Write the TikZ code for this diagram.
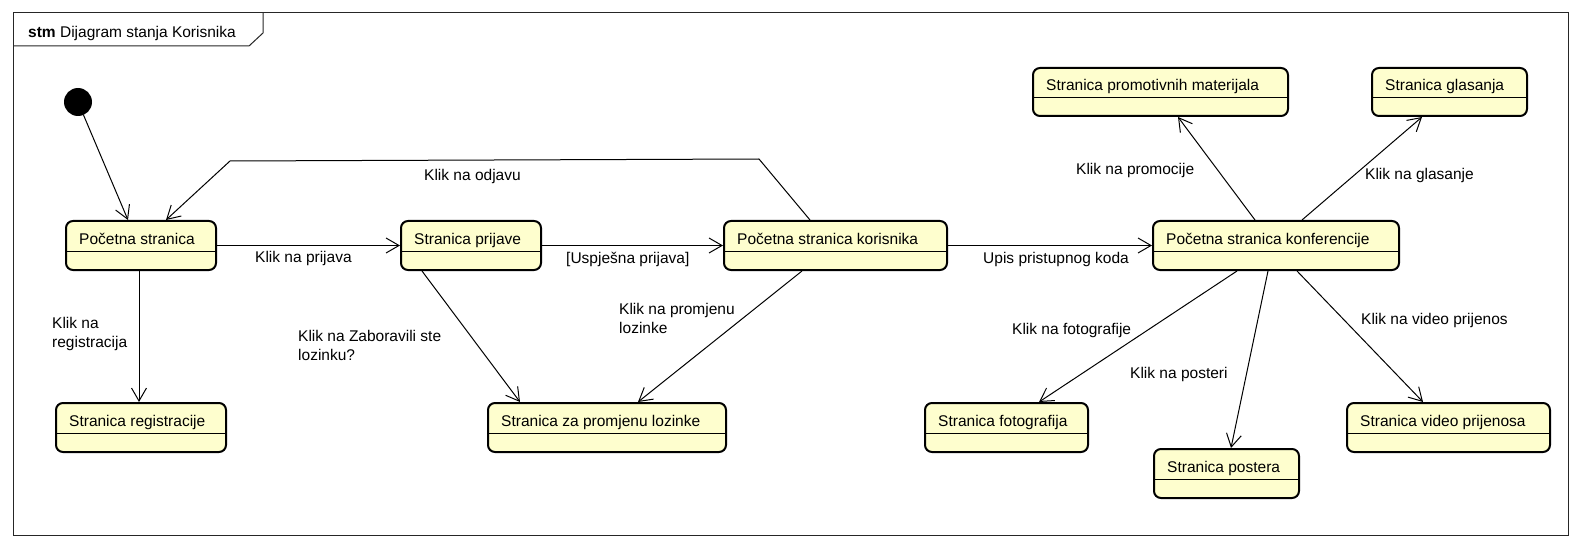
\documentclass[tikz,border=0pt]{standalone}
\usepackage{fontspec}
\setmainfont{Liberation Sans}
\usetikzlibrary{arrows.meta,calc}
\definecolor{yfill}{HTML}{FEFECE}
\newcommand\umlst[6]{%
  \node[st, minimum width={#4-#2}, minimum height={#5-#3}] (#1) at (#2,#3) {};
  \draw[divl] ($(#1.north west)+(0,31)$) -- ($(#1.north east)+(0,31)$);
  \node[txt] (#1t) at ($(#1.north west)+(14,24)$) {#6};
}
\begin{document}
\begin{tikzpicture}[x=1pt,y=-1pt,
  st/.style={draw=black, line width=2pt, rounded corners=7pt, fill=yfill, anchor=north west, inner sep=0pt},
  divl/.style={draw=black, line width=1pt},
  txt/.style={font=\fontsize{15.5}{19}\selectfont, inner sep=0pt, anchor=base west, align=left},
  tr/.style={draw=black, line width=1pt, -{Straight Barb[length=13pt,width=15pt,line width=1pt]}},
]
\useasboundingbox (0,0) rectangle (1582,548);
% frame
\draw[line width=1pt, draw=black!85] (13,13) rectangle (1568,535);
\draw[line width=1pt, draw=black!85] (13,46) -- (249,46) -- (263,33) -- (263,13);
\node[txt] (title) at (28,38) {\textbf{stm} Dijagram stanja Korisnika};
% initial
\node[circle, fill=black, minimum size=28pt, inner sep=0pt] (init) at (78,102) {};
% states
\umlst{A}{65}{220}{215}{269}{Početna stranica}
\umlst{B}{400}{220}{540}{269}{Stranica prijave}
\umlst{C}{723}{220}{946}{269}{Početna stranica korisnika}
\umlst{D}{1152}{220}{1398}{269}{Početna stranica konferencije}
\umlst{E}{1032}{67}{1287}{115}{Stranica promotivnih materijala}
\umlst{F}{1371}{67}{1526}{115}{Stranica glasanja}
\umlst{G}{55}{402}{225}{451}{Stranica registracije}
\umlst{H}{487}{402}{725}{451}{Stranica za promjenu lozinke}
\umlst{I}{924}{402}{1087}{451}{Stranica fotografija}
\umlst{J}{1153}{448}{1298}{497}{Stranica postera}
\umlst{K}{1346}{402}{1549}{451}{Stranica video prijenosa}
% waypoints
\coordinate (o1) at (759,159);
\coordinate (o2) at (230,161);
% transitions
\draw[tr] (init) -- ($(A.north west)+(63,0)$);
\draw[tr] ($(C.north west)+(87,0)$) -- (o1) -- (o2) -- ($(A.north west)+(101,0)$);
\draw[tr] (A.east) -- (B.west);
\draw[tr] (B.east) -- (C.west);
\draw[tr] (C.east) -- (D.west);
\draw[tr] ($(A.south west)+(74,0)$) -- ($(G.north west)+(84,0)$);
\draw[tr] ($(B.south west)+(22,0)$) -- ($(H.north west)+(33,0)$);
\draw[tr] ($(C.south west)+(79,0)$) -- ($(H.north west)+(151,0)$);
\draw[tr] ($(D.north west)+(103,0)$) -- ($(E.south west)+(146,0)$);
\draw[tr] ($(D.north west)+(150,0)$) -- ($(F.south west)+(51,0)$);
\draw[tr] ($(D.south west)+(85,0)$) -- ($(I.north west)+(115,0)$);
\draw[tr] ($(D.south west)+(116,0)$) -- ($(J.north west)+(78,0)$);
\draw[tr] ($(D.south west)+(145,0)$) -- ($(K.north west)+(77,0)$);
% labels
\node[txt] (l1) at (424,181) {Klik na odjavu};
\node[txt] (l2) at (255,262) {Klik na prijava};
\node[txt] (l3) at (566,263) {[Uspješna prijava]};
\node[txt] (l4) at (983,263) {Upis pristupnog koda};
\node[txt] (l5) at (52,347) {Klik na\\registracija};
\node[txt] (l6) at (298,360) {Klik na Zaboravili ste\\lozinku?};
\node[txt] (l7) at (619,333) {Klik na promjenu\\lozinke};
\node[txt] (l8) at (1076,175) {Klik na promocije};
\node[txt] (l9) at (1365,180) {Klik na glasanje};
\node[txt] (l10) at (1012,334) {Klik na fotografije};
\node[txt] (l11) at (1130,378) {Klik na posteri};
\node[txt] (l12) at (1361,324) {Klik na video prijenos};
\end{tikzpicture}
\end{document}
